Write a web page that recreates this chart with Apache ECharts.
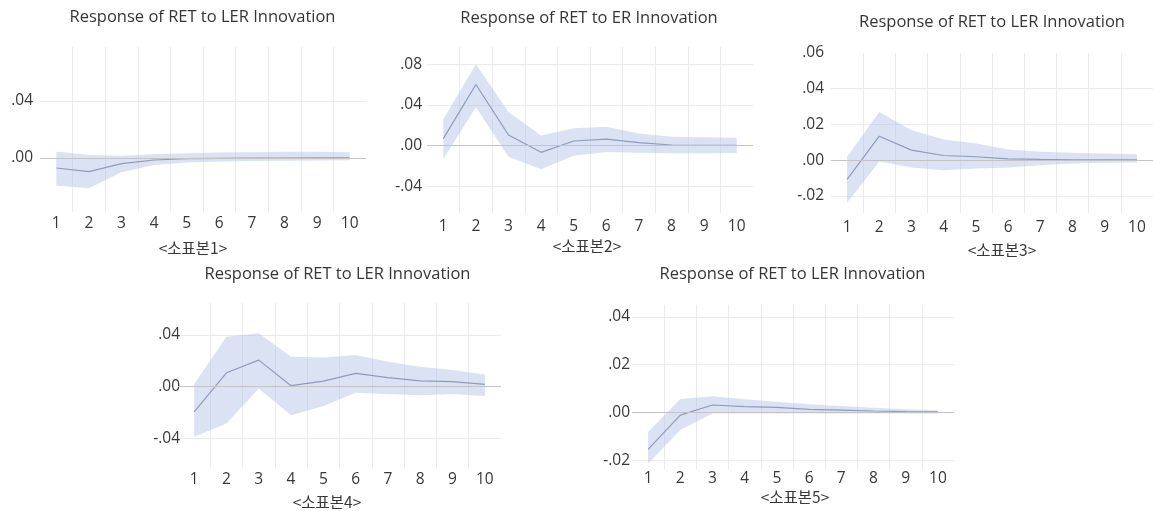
<!DOCTYPE html>
<html>
<head>
<meta charset="utf-8">
<script src="https://cdn.jsdelivr.net/npm/echarts@6/dist/echarts.min.js"></script>
<style>
  html, body { margin: 0; padding: 0; background: #ffffff; }
  #chart { width: 1153px; height: 511px; }
</style>
</head>
<body>
<div id="chart"></div>
<script>
// Horizon (periods after the shock)
const periods = ['1', '2', '3', '4', '5', '6', '7', '8', '9', '10'];

const panelTitles = [
  'Response of RET to LER Innovation',
  'Response of RET to ER Innovation',
  'Response of RET to LER Innovation',
  'Response of RET to LER Innovation',
  'Response of RET to LER Innovation'
];
const sampleNames = ['<소표본1>', '<소표본2>', '<소표본3>', '<소표본4>', '<소표본5>'];

// Impulse responses with upper / lower confidence bounds
const resp1  = [-0.0070, -0.0096, -0.0040, -0.0014, -0.0005, -0.0002, 0.0000, 0.0000, 0.0001, 0.0001];
const upper1 = [ 0.0046,  0.0021,  0.0016,  0.0026,  0.0034,  0.0039, 0.0041, 0.0043, 0.0043, 0.0040];
const lower1 = [-0.0194, -0.0213, -0.0100, -0.0050, -0.0031, -0.0024, -0.0021, -0.0020, -0.0018, -0.0016];

const resp2  = [ 0.0069, 0.0600,  0.0105, -0.0065,  0.0046,  0.0065,  0.0030,  0.0007,  0.0003,  0.0003];
const upper2 = [ 0.0260, 0.0800,  0.0330,  0.0100,  0.0170,  0.0186,  0.0120,  0.0088,  0.0082,  0.0078];
const lower2 = [-0.0134, 0.0380, -0.0108, -0.0232, -0.0098, -0.0062, -0.0069, -0.0075, -0.0075, -0.0072];

const resp3  = [-0.0108,  0.0134,  0.0056,  0.0026,  0.0019,  0.0007,  0.0004,  0.0002,  0.0002,  0.0001];
const upper3 = [ 0.0019,  0.0270,  0.0167,  0.0115,  0.0093,  0.0060,  0.0047,  0.0041,  0.0037,  0.0033];
const lower3 = [-0.0238, -0.0008, -0.0041, -0.0056, -0.0047, -0.0041, -0.0028, -0.0019, -0.0015, -0.0013];

const resp4  = [-0.0194,  0.0108,  0.0206,  0.0008,  0.0044,  0.0103,  0.0070,  0.0046,  0.0039,  0.0018];
const upper4 = [ 0.0020,  0.0387,  0.0413,  0.0232,  0.0227,  0.0245,  0.0194,  0.0155,  0.0129,  0.0095];
const lower4 = [-0.0387, -0.0284, -0.0013, -0.0220, -0.0150, -0.0046, -0.0057, -0.0065, -0.0057, -0.0072];

const resp5  = [-0.0153, -0.0010,  0.0032,  0.0025,  0.0022,  0.0014,  0.0011,  0.0007,  0.0004,  0.0003];
const upper5 = [-0.0081,  0.0057,  0.0069,  0.0056,  0.0046,  0.0035,  0.0028,  0.0021,  0.0014,  0.0010];
const lower5 = [-0.0212, -0.0072, -0.0003, -0.0003, -0.0003, -0.0003, -0.0003, -0.0003, -0.0003, -0.0004];

// Value-axis tick labels shown on each panel, and their spacing
const yTicks1 = ['.04', '.00'];
const yTicks2 = ['.08', '.04', '.00', '-.04'];
const yTicks3 = ['.06', '.04', '.02', '.00', '-.02'];
const yTicks4 = ['.04', '.00', '-.04'];
const yTicks5 = ['.04', '.02', '.00', '-.02'];
const yStep = [0.04, 0.04, 0.02, 0.04, 0.02];

const seriesData = [
  { resp: resp1, upper: upper1, lower: lower1, ticks: yTicks1 },
  { resp: resp2, upper: upper2, lower: lower2, ticks: yTicks2 },
  { resp: resp3, upper: upper3, lower: lower3, ticks: yTicks3 },
  { resp: resp4, upper: upper4, lower: lower4, ticks: yTicks4 },
  { resp: resp5, upper: upper5, lower: lower5, ticks: yTicks5 }
];

// Panel placement on the page
const layout = [
  { grid: { left: 40,  top: 47,  width: 326, height: 165 }, yMin: -0.0379, yMax: 0.0779, yMargin: 7,  xMargin: 4, title: [202.5, 17], name: [193, 248] },
  { grid: { left: 427, top: 47,  width: 326, height: 166 }, yMin: -0.0660, yMax: 0.0968, yMargin: 5,  xMargin: 6, title: [589, 18],   name: [587, 246] },
  { grid: { left: 831, top: 53,  width: 322, height: 160 }, yMin: -0.0296, yMax: 0.0600, yMargin: 7,  xMargin: 7, title: [992, 22.5], name: [1002, 250] },
  { grid: { left: 178, top: 303, width: 323, height: 165 }, yMin: -0.0629, yMax: 0.0648, yMargin: -2, xMargin: 4, title: [337.5, 274], name: [327, 502] },
  { grid: { left: 632, top: 305, width: 322, height: 165 }, yMin: -0.0239, yMax: 0.0449, yMargin: 2,  xMargin: 1, title: [792.5, 274], name: [795, 497] }
];

const LABEL_FONT = '"Open Sans", "Liberation Sans", sans-serif';
const KR_FONT = '"Noto Sans CJK KR", "Open Sans", sans-serif';
const TEXT_COLOR = '#383838';
const GRID_COLOR = '#ebebeb';
const BAND_COLOR = 'rgba(175, 192, 228, 0.46)';
const LINE_COLOR = '#8f9bbd';
const ZERO_COLOR = '#c4c4c4';

function fmtTick(v) {
  return v.toFixed(2).replace('0.', '.');
}

const grids = [], xAxes = [], yAxes = [], series = [], graphics = [];

layout.forEach((L, i) => {
  const d = seriesData[i];
  const step = yStep[i];
  grids.push(Object.assign({ containLabel: false }, L.grid));

  xAxes.push({
    type: 'category',
    gridIndex: i,
    data: periods,
    boundaryGap: true,
    axisLine: { show: false },
    axisTick: { show: false },
    axisLabel: { margin: L.xMargin, fontSize: 15.5, fontFamily: LABEL_FONT, color: TEXT_COLOR },
    splitLine: { show: true, showMinLine: false, showMaxLine: false, lineStyle: { color: GRID_COLOR, width: 1 } }
  });

  yAxes.push({
    type: 'value',
    gridIndex: i,
    min: L.yMin,
    max: L.yMax,
    minInterval: step,
    maxInterval: step,
    axisLine: { show: false },
    axisTick: { show: false },
    axisLabel: {
      margin: L.yMargin,
      fontSize: 15.5,
      fontFamily: LABEL_FONT,
      color: TEXT_COLOR,
      showMinLabel: true,
      showMaxLabel: true,
      formatter: (v) => {
        const k = v / step;
        if (Math.abs(k - Math.round(k)) > 1e-6) return '';
        const s = fmtTick(v);
        return d.ticks.indexOf(s) >= 0 ? s : '';
      }
    },
    splitLine: { show: true, showMinLine: false, showMaxLine: false, lineStyle: { color: GRID_COLOR, width: 1 } }
  });

  const stackId = 'band' + i;
  // lower bound: invisible base of the confidence band
  series.push({
    type: 'line', xAxisIndex: i, yAxisIndex: i,
    data: d.lower, stack: stackId, stackStrategy: 'all',
    symbol: 'none', silent: true,
    lineStyle: { opacity: 0 }
  });
  // width of the band, stacked on the lower bound
  series.push({
    type: 'line', xAxisIndex: i, yAxisIndex: i,
    data: d.upper.map((u, k) => u - d.lower[k]), stack: stackId, stackStrategy: 'all',
    symbol: 'none', silent: true,
    lineStyle: { opacity: 0 },
    areaStyle: { color: BAND_COLOR, opacity: 1 }
  });
  // point estimate of the response
  series.push({
    type: 'line', xAxisIndex: i, yAxisIndex: i,
    data: d.resp, symbol: 'none', silent: true,
    lineStyle: { color: LINE_COLOR, width: 1.2 },
    markLine: {
      silent: true, symbol: 'none', animation: false,
      label: { show: false },
      lineStyle: { color: ZERO_COLOR, width: 1, type: 'solid' },
      data: [{ yAxis: 0 }]
    }
  });

  graphics.push({
    type: 'text', x: L.title[0], y: L.title[1],
    style: { text: panelTitles[i], align: 'center', verticalAlign: 'middle', fontSize: 16.5, fontFamily: LABEL_FONT, fill: '#363636' }
  });
  graphics.push({
    type: 'text', x: L.name[0], y: L.name[1],
    style: { text: sampleNames[i], align: 'center', verticalAlign: 'middle', fontSize: 15.5, fontFamily: KR_FONT, fill: TEXT_COLOR }
  });
});

const chart = echarts.init(document.getElementById('chart'), null, { renderer: 'canvas' });
chart.setOption({
  backgroundColor: '#ffffff',
  animation: false,
  grid: grids,
  xAxis: xAxes,
  yAxis: yAxes,
  series: series,
  graphic: graphics
});
</script>
</body>
</html>
